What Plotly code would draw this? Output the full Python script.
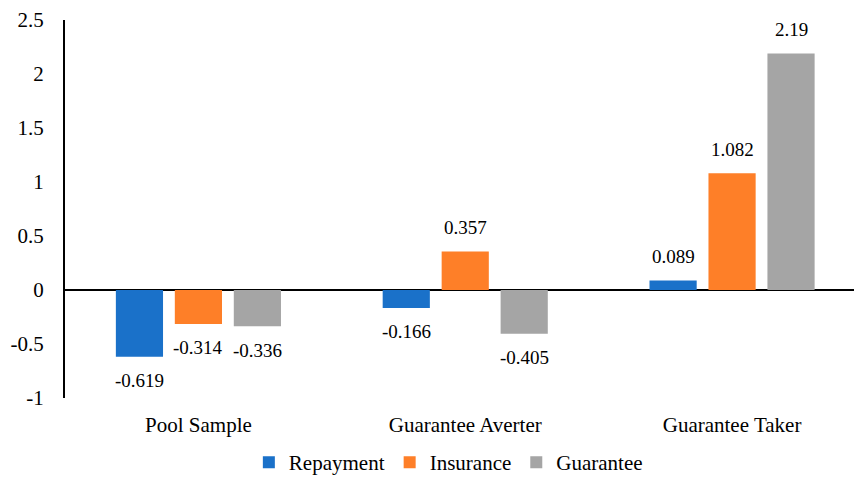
import plotly.graph_objects as go

# Categories and series values
groups = ["Pool Sample", "Guarantee Averter", "Guarantee Taker"]
repayment = [-0.619, -0.166, 0.089]
insurance = [-0.314, 0.357, 1.082]
guarantee = [-0.336, -0.405, 2.19]

series_names = ["Repayment", "Insurance", "Guarantee"]
series_values = [repayment, insurance, guarantee]
series_colors = ["#1A71C9", "#FE7F28", "#A5A5A5"]

y_ticks = [-1, -0.5, 0, 0.5, 1, 1.5, 2, 2.5]
y_tick_text = ["-1", "-0.5", "0", "0.5", "1", "1.5", "2", "2.5"]

FONT = "'Times New Roman', 'Liberation Serif', 'DejaVu Serif', serif"

fig = go.Figure()
for name, vals, col in zip(series_names, series_values, series_colors):
    fig.add_trace(go.Bar(
        name=name, x=groups, y=vals,
        marker=dict(color=col, line=dict(width=0)),
    ))

# Value labels placed just beyond each bar end
slot_px = 59
for i, vals in enumerate(series_values):
    for g, v in zip(groups, vals):
        fig.add_annotation(
            x=g, y=v, text=f"{v}", showarrow=False,
            xshift=(i - 1) * slot_px,
            yshift=24 if v >= 0 else -24,
            font=dict(family=FONT, size=19, color="#000000"),
        )

fig.update_layout(
    width=854, height=483,
    margin=dict(l=65, r=0, t=20, b=85, autoexpand=False),
    paper_bgcolor="white", plot_bgcolor="white",
    barmode="group", bargap=0.337, bargroupgap=0.2,
    font=dict(family=FONT, size=19, color="#000000"),
    showlegend=True,
    legend=dict(
        orientation="h", xref="container", x=0.525, xanchor="center",
        yref="container", y=-0.015, yanchor="bottom",
        font=dict(family=FONT, size=21), itemwidth=30,
        bgcolor="rgba(0,0,0,0)",
    ),
)
fig.update_xaxes(
    range=[-0.5, 2.457], showline=False, showgrid=False, zeroline=False,
    ticks="", ticklabelstandoff=12, tickangle=0, automargin=False,
    tickfont=dict(family=FONT, size=21),
)
fig.update_yaxes(
    range=[-1, 2.5], tickvals=y_ticks, ticktext=y_tick_text,
    showgrid=False, showline=True, linecolor="#000000", linewidth=2,
    zeroline=True, zerolinecolor="#000000", zerolinewidth=2, automargin=False,
    ticks="", ticklabelstandoff=15, tickfont=dict(family=FONT, size=21),
)

fig.write_html("out.html")
